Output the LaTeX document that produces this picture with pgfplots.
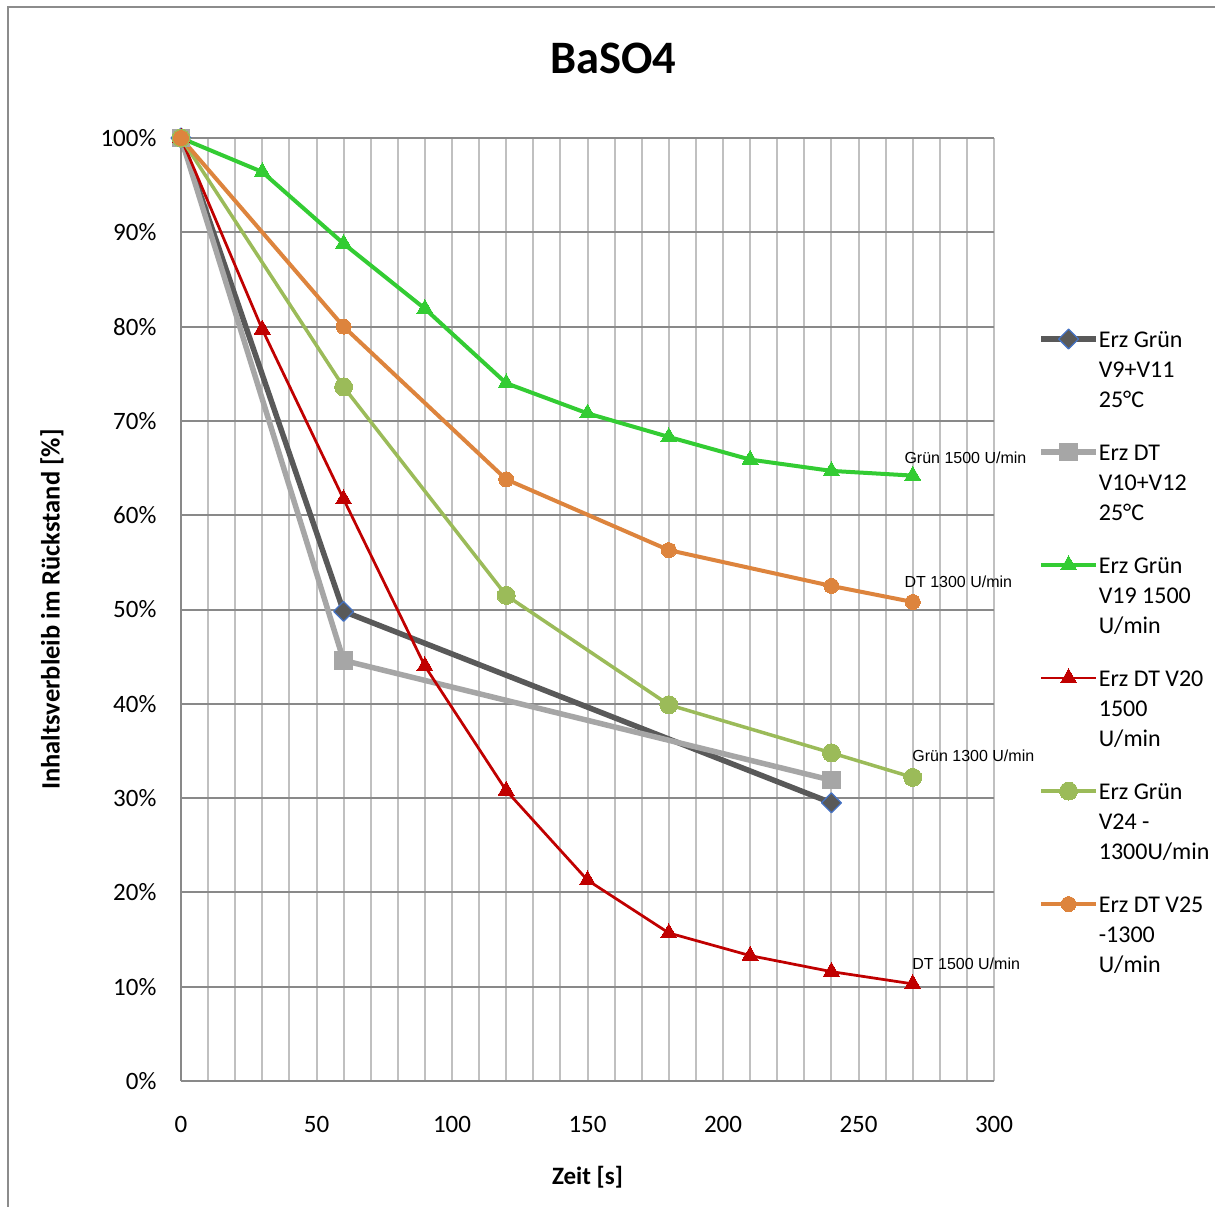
\documentclass[border=0pt]{standalone}
\usepackage{fontspec}
\setmainfont{Carlito}
\newfontfamily\annfont{Liberation Sans}
\usepackage{pgfplots}
\pgfplotsset{compat=1.18}

\definecolor{cGrayDark}{HTML}{595959}
\definecolor{cGrayLight}{HTML}{A6A6A6}
\definecolor{cGreen}{HTML}{33CC33}
\definecolor{cRed}{HTML}{C00000}
\definecolor{cOlive}{HTML}{9BBB59}
\definecolor{cOrange}{HTML}{DD843D}
\definecolor{cMarkEdge}{HTML}{4472C4}
\definecolor{gridH}{HTML}{898989}
\definecolor{gridV}{HTML}{C0C0C0}

% three-line legend text whose baseline is that of the first line
\newcommand{\legtext}[3]{\vtop{\baselineskip=12pt\hbox{\strut #1}\hbox{#2}\hbox{\strut #3}}}

\begin{document}
\begin{tikzpicture}
\useasboundingbox (0pt,-482.4pt) rectangle (486pt,0pt);
\fill[white] (0pt,-482.4pt) rectangle (486pt,0pt);
% chart frame
\draw[color=gray!90, line width=0.8pt] (3.2pt,-490pt) -- (3.2pt,-2.8pt) -- (500pt,-2.8pt);
\node[font=\bfseries\fontsize{18.6}{22}\selectfont] at (245.2pt,-23.2pt) {BaSO4};
\begin{axis}[
  at={(72.4pt,-432.4pt)}, anchor=south west,
  scale only axis, width=325.2pt, height=377.2pt,
  clip=false,
  xmin=0, xmax=300, ymin=0, ymax=100,
  xtick={0,50,...,300}, minor xtick={10,20,...,290},
  ytick={0,10,...,100},
  xmajorgrids, xminorgrids, ymajorgrids,
  major x grid style={gridV, line width=0.8pt},
  minor x grid style={gridV, line width=0.8pt},
  major y grid style={gridH, line width=0.8pt},
  axis x line*=bottom, axis y line*=left,
  axis line style={gridH, line width=0.8pt, -},
  major tick length=0pt, minor tick length=0pt,
  /pgf/number format/assume math mode=true,
  tick label style={font=\fontsize{10}{12}\selectfont},
  yticklabel={\pgfmathprintnumber{\tick}\%},
  yticklabel style={anchor=east, xshift=-6.3pt},
  xticklabel style={anchor=north, yshift=-10.5pt},
  xlabel style={font=\bfseries\fontsize{10}{12}\selectfont},
  ylabel style={font=\bfseries\fontsize{10.6}{12}\selectfont},
  xlabel={Zeit [s]},
  ylabel={Inhaltsverbleib im Rückstand [\%]},
  xlabel style={at={(axis description cs:0.5,-0.1018)}, anchor=center},
  ylabel style={at={(axis description cs:-0.1587,0.5)}, anchor=center},
  legend style={at={(axis description cs:1.0545,0.8006)}, anchor=north west,
    draw=none, fill=none, inner sep=0pt, outer sep=0pt,
    row sep=9.2pt, column sep=0pt,
    font=\fontsize{9.6}{12}\selectfont,
    cells={anchor=base west},
    nodes={inner sep=0pt, text depth={}}},
  legend image code/.code={\draw[mark repeat=2, mark phase=2]
    plot coordinates {(0pt,3.2pt) (11pt,3.2pt) (22pt,3.2pt)};},
  every axis plot/.append style={line join=round},
]
% Erz Grün V9+V11, 25 °C
\addplot[cGrayDark, line width=2.2pt, mark=square*, mark size=2.8pt,
  mark options={rotate=45, fill=cGrayDark, draw=cMarkEdge, line width=0.5pt}]
  coordinates {(0,100) (60,49.8) (240,29.5)};
\addlegendentry{\legtext{Erz Grün}{V9+V11}{25°C}}
% Erz DT V10+V12, 25 °C
\addplot[cGrayLight, line width=2.2pt, mark=square*, mark size=3.5pt,
  mark options={fill=cGrayLight, draw=cGrayLight, line width=0pt}]
  coordinates {(0,100) (60,44.6) (240,31.9)};
\addlegendentry{\legtext{Erz DT}{V10+V12}{25°C}}
% Erz Grün V19, 1500 U/min
\addplot[cGreen, line width=1.6pt, mark=triangle*, mark size=3.7pt,
  mark options={fill=cGreen, draw=cGreen, line width=0pt}]
  coordinates {(0,100) (30,96.4) (60,88.8) (90,81.9) (120,74.0) (150,70.8)
               (180,68.3) (210,65.9) (240,64.7) (270,64.2)};
\addlegendentry{\legtext{Erz Grün}{V19 1500}{U/min}}
% Erz DT V20, 1500 U/min
\addplot[cRed, line width=1.1pt, mark=triangle*, mark size=3.7pt,
  mark options={fill=cRed, draw=cRed, line width=0pt}]
  coordinates {(0,100) (30,79.7) (60,61.7) (90,44.0) (120,30.8) (150,21.3)
               (180,15.7) (210,13.3) (240,11.6) (270,10.3)};
\addlegendentry{\legtext{Erz DT V20}{1500}{U/min}}
% Erz Grün V24, 1300 U/min
\addplot[cOlive, line width=1.4pt, mark=*, mark size=3.6pt,
  mark options={fill=cOlive, draw=cOlive, line width=0pt}]
  coordinates {(0,100) (60,73.6) (120,51.5) (180,39.9) (240,34.8) (270,32.2)};
\addlegendentry{\legtext{Erz Grün}{V24 -}{1300U/min}}
% Erz DT V25, 1300 U/min
\addplot[cOrange, line width=1.6pt, mark=*, mark size=3pt,
  mark options={fill=cOrange, draw=cOrange, line width=0pt}]
  coordinates {(0,100) (60,80.0) (120,63.8) (180,56.3) (240,52.5) (270,50.8)};
\addlegendentry{\legtext{Erz DT V25}{-1300}{U/min}}
% series labels
\begin{scope}[every node/.style={anchor=west, inner sep=0pt,
    font=\annfont\fontsize{6.4}{7}\selectfont}]
\node at (axis cs:266.8,66.1) {Grün 1500 U/min};
\node at (axis cs:266.8,52.9) {DT 1300 U/min};
\node at (axis cs:269.7,34.5) {Grün 1300 U/min};
\node at (axis cs:269.7,12.4) {DT 1500 U/min};
\end{scope}
\end{axis}
\end{tikzpicture}
\end{document}
